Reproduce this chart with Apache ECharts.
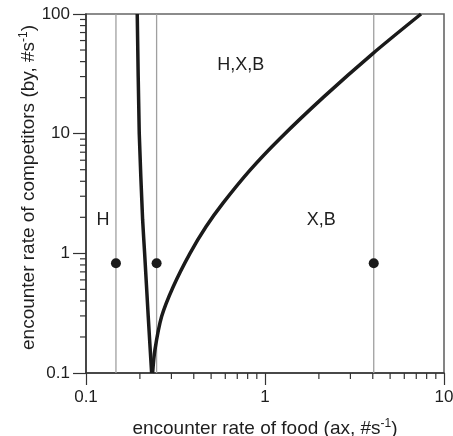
<!DOCTYPE html>
<html>
<head>
<meta charset="utf-8">
<script src="https://cdn.jsdelivr.net/npm/echarts@6/dist/echarts.min.js"></script>
<style>
  html, body { margin: 0; padding: 0; background: #fff; }
  #chart { width: 453px; height: 436px; }
</style>
</head>
<body>
<div id="chart"></div>
<script>
// boundary curves (ax, by)
const leftCurve = [[0.1933, 100], [0.1984, 10], [0.2072, 1.9], [0.2126, 1], [0.2227, 0.296], [0.2326, 0.1]];
const rightCurve = [
  [0.2356, 0.1], [0.2427, 0.156], [0.2645, 0.296], [0.307, 0.526], [0.381, 1],
  [0.468, 1.667], [0.581, 2.615], [0.825, 4.96], [1.214, 9.12], [2.13, 20.3],
  [4.0, 46.7], [7.44, 100]
];
// thin vertical reference lines and the dots on them
const refLinesX = [0.147, 0.248, 4.05];
const dotY = 0.825;
// region labels
const regionNames = ['H', 'H,X,B', 'X,B'];
const regionPos = [[0.1244, 1.9], [0.733, 37.3], [2.06, 1.9]];
// minor tick values
const xMinor = [0.2, 0.3, 0.4, 0.5, 0.6, 0.7, 0.8, 0.9, 2, 3, 4, 5, 6, 7, 8, 9];
const yMinor = [0.2, 0.3, 0.4, 0.5, 0.6, 0.7, 0.8, 0.9, 2, 3, 4, 5, 6, 7, 8, 9, 20, 30, 40, 50, 60, 70, 80, 90];

const X_MIN = 0.1, X_MAX = 10, Y_MIN = 0.1, Y_MAX = 100;
const FONT = 'Liberation Sans, Arial, Helvetica, sans-serif';
const INK = '#1e1e1e';

const chart = echarts.init(document.getElementById('chart'));

const refSeries = refLinesX.map(x => ({
  type: 'line',
  data: [[x, Y_MIN], [x, Y_MAX]],
  symbol: 'none',
  silent: true,
  lineStyle: { color: '#a0a0a0', width: 1.3 },
  z: 2
}));

// minor ticks drawn through the axis scales
const minorTicks = (vals, dir) => ({
  type: 'custom',
  clip: false,
  silent: true,
  data: vals.map(v => dir === 'x' ? [v, Y_MIN] : [X_MIN, v]),
  renderItem: (params, api) => {
    const p = api.coord([api.value(0), api.value(1)]);
    const shape = dir === 'x'
      ? { x1: p[0], y1: p[1], x2: p[0], y2: p[1] + 6 }
      : { x1: p[0], y1: p[1], x2: p[0] - 6, y2: p[1] };
    return { type: 'line', shape: shape, style: { stroke: '#333', lineWidth: 1.2 } };
  },
  z: 5
});

const option = {
  animation: false,
  grid: {
    left: 86, right: 9, top: 14, bottom: 63,
    outerBoundsMode: 'none',
    containLabel: false,
    show: true, borderColor: '#666', borderWidth: 1.6
  },
  xAxis: {
    type: 'log',
    logBase: 10,
    min: X_MIN,
    max: X_MAX,
    name: 'encounter rate of food (ax, #s{sup|-1})',
    nameLocation: 'middle',
    nameGap: 45,
    nameMoveOverlap: false,
    nameTextStyle: {
      fontFamily: FONT, fontSize: 19, color: INK,
      rich: { sup: { fontFamily: FONT, fontSize: 12, color: INK, padding: [0, 0, 10, 0] } }
    },
    axisLine: { lineStyle: { color: '#333', width: 1.5 } },
    axisTick: { length: 12, lineStyle: { color: '#333', width: 1.2 } },
    axisLabel: { fontFamily: FONT, fontSize: 17, color: INK, margin: 16 },
    splitLine: { show: false }
  },
  yAxis: {
    type: 'log',
    logBase: 10,
    min: Y_MIN,
    max: Y_MAX,
    name: 'encounter rate of competitors (by, #s{sup|-1})',
    nameLocation: 'middle',
    nameGap: 46,
    nameMoveOverlap: false,
    nameTextStyle: {
      fontFamily: FONT, fontSize: 19, color: INK,
      padding: [0, 0, 0, 12],
      rich: { sup: { fontFamily: FONT, fontSize: 12, color: INK, padding: [0, 0, 10, 0] } }
    },
    axisLine: { lineStyle: { color: '#333', width: 1.5 } },
    axisTick: { length: 13, lineStyle: { color: '#333', width: 1.2 } },
    axisLabel: { fontFamily: FONT, fontSize: 17, color: INK, margin: 16 },
    splitLine: { show: false }
  },
  series: [
    ...refSeries,
    {
      type: 'line',
      data: leftCurve,
      symbol: 'none',
      smooth: 0.2,
      lineStyle: { color: '#1a1a1a', width: 3.5 },
      z: 4
    },
    {
      type: 'line',
      data: rightCurve,
      symbol: 'none',
      smooth: 0.3,
      lineStyle: { color: '#1a1a1a', width: 3.5 },
      z: 4
    },
    {
      type: 'scatter',
      data: refLinesX.map(x => [x, dotY]),
      symbol: 'circle',
      symbolSize: 10,
      itemStyle: { color: '#1a1a1a', opacity: 1 },
      z: 6
    },
    {
      type: 'scatter',
      data: regionPos.map((p, i) => ({ value: p, name: regionNames[i] })),
      symbolSize: 0,
      silent: true,
      itemStyle: { opacity: 1 },
      label: {
        show: true,
        position: 'inside',
        formatter: '{b}',
        fontFamily: FONT,
        fontSize: 18,
        color: INK
      }
    },
    minorTicks(xMinor, 'x'),
    minorTicks(yMinor, 'y')
  ]
};

chart.setOption(option);
</script>
</body>
</html>
